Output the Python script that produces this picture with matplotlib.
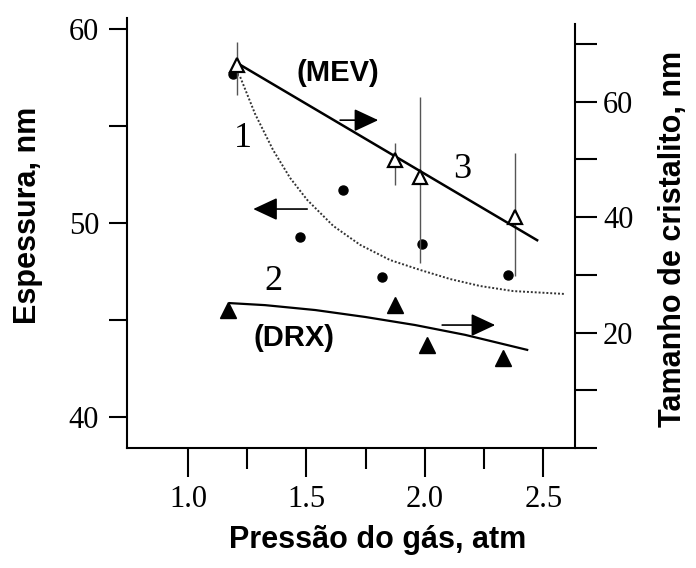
import numpy as np
import matplotlib.pyplot as plt
from matplotlib.ticker import FixedLocator

# curve 1: film thickness (left axis), filled circles + dotted trend
p_thick = [1.19, 1.473, 1.655, 1.82, 1.989, 2.352]
thick = [57.7, 49.3, 51.7, 47.2, 48.9, 47.3]
p_thick_fit = [1.22, 1.283, 1.359, 1.431, 1.503, 1.613, 1.727, 1.853,
               1.98, 2.107, 2.234, 2.373, 2.593]
thick_fit = [57.53, 55.62, 53.76, 52.32, 51.19, 49.85, 48.87, 48.09,
             47.58, 47.11, 46.75, 46.49, 46.34]

# curve 3: crystallite size from SEM (MEV), open triangles with error bars
p_mev = [1.207, 1.875, 1.98, 2.381]
size_mev = [66.4, 49.9, 47.0, 40.0]
err_mev_lo = [5.2, 4.3, 14.9, 10.2]
err_mev_hi = [4.0, 3.0, 13.8, 11.1]
p_mev_fit = [1.207, 2.474]
size_mev_fit = [66.7, 36.0]

# curve 2: crystallite size from XRD (DRX), filled triangles
p_drx = [1.169, 1.875, 2.01, 2.331]
size_drx = [23.9, 24.8, 17.9, 15.6]
p_drx_fit = [1.177, 1.325, 1.537, 1.748, 1.959, 2.17, 2.432]
size_drx_fit = [25.1, 24.75, 23.9, 22.7, 21.3, 19.6, 17.0]

x_major = [1.0, 1.5, 2.0, 2.5]
x_minor = [1.25, 1.75, 2.25]

serif = "Liberation Serif"
sans = "Liberation Sans"

fig = plt.figure(figsize=(6.96, 5.68), dpi=100)
ax = fig.add_axes([0.1825, 0.2113, 0.644, 0.757])
ax2 = ax.twinx()

# left axis data
ax.plot(p_thick, thick, "o", color="black", ms=6.5, zorder=3)
ax.plot(p_thick_fit, thick_fit, color="#333333", lw=1.4,
        linestyle=(0, (1, 1)), zorder=2)

# right axis data
ax2.errorbar(p_mev, size_mev, yerr=[err_mev_lo, err_mev_hi], fmt="none",
             ecolor="#555555", elinewidth=1.0, capsize=0, zorder=2)
ax2.plot(p_mev_fit, size_mev_fit, color="black", lw=1.8, zorder=3)
ax2.plot(p_mev, size_mev, "^", mfc="white", mec="black", mew=1.6,
         ms=10.5, zorder=4)
ax2.plot(p_drx_fit, size_drx_fit, color="black", lw=1.6, zorder=3)
ax2.plot(p_drx, size_drx, "^", color="black", ms=12, zorder=4)

ax.set_xlim(0.742, 2.635)
ax.set_ylim(38.4, 60.57)
ax2.set_ylim(0, 74.5)

# spines
for a in (ax, ax2):
    a.spines["top"].set_visible(False)
    for s in a.spines.values():
        s.set_linewidth(1.5)
ax.spines["right"].set_visible(False)
ax2.spines["left"].set_visible(False)
ax2.spines["bottom"].set_visible(False)
ax2.spines["right"].set_bounds(0, 73.5)

# ticks
ax.xaxis.set_major_locator(FixedLocator(x_major))
ax.xaxis.set_minor_locator(FixedLocator(x_minor))
ax.set_xticklabels([f"{v:.1f}" for v in x_major])
ax.yaxis.set_major_locator(FixedLocator([40, 50, 60]))
ax.yaxis.set_minor_locator(FixedLocator([45, 55]))
ax2.yaxis.set_major_locator(FixedLocator([20, 40, 60]))
ax2.yaxis.set_minor_locator(FixedLocator([0, 10, 30, 50, 70]))

ax.tick_params(axis="x", which="major", direction="out", length=21,
               width=1.5, pad=6)
ax.tick_params(axis="x", which="minor", direction="out", length=15,
               width=1.5)
ax.tick_params(axis="y", which="both", direction="out", length=13,
               width=1.5, pad=7)
ax2.tick_params(axis="y", which="both", direction="out", length=16,
                width=1.5, pad=4)

for lab in ax.get_xticklabels() + ax.get_yticklabels() + ax2.get_yticklabels():
    lab.set_fontfamily(serif)
    lab.set_fontsize(22)

# axis titles
ax.set_xlabel("Pressão do gás, atm", fontfamily=sans, fontweight="bold",
              fontsize=22, va="center")
ax.xaxis.set_label_coords(0.558, -0.214)
ax.set_ylabel("Espessura, nm", fontfamily=sans, fontweight="bold",
              fontsize=22, va="center")
ax.yaxis.set_label_coords(-0.221, 0.542)
ax2.set_ylabel("Tamanho de cristalito, nm", fontfamily=sans,
               fontweight="bold", fontsize=22, va="center", rotation=90)
ax2.yaxis.set_label_coords(1.219, 0.486)

# curve labels
ax2.text(1.634, 65.0, "(MEV)", fontfamily=sans, fontweight="bold",
         fontsize=21, ha="center", va="center")
ax2.text(1.448, 19.1, "(DRX)", fontfamily=sans, fontweight="bold",
         fontsize=21, ha="center", va="center")
ax.text(1.232, 54.38, "1", fontfamily=serif, fontsize=26, ha="center", va="center")
ax2.text(2.158, 48.2, "3", fontfamily=serif, fontsize=26, ha="center", va="center")
ax2.text(1.359, 28.8, "2", fontfamily=serif, fontsize=26, ha="center", va="center")

# arrows showing which axis each curve belongs to
arrow = dict(arrowstyle="-|>,head_length=1.5,head_width=0.7",
             color="black", lw=1.2, shrinkA=0, shrinkB=0)
ax2.annotate("", xy=(1.803, 56.8), xytext=(1.642, 56.8), arrowprops=arrow)
ax.annotate("", xy=(1.275, 50.72), xytext=(1.503, 50.72), arrowprops=arrow)
ax2.annotate("", xy=(2.297, 21.3), xytext=(2.073, 21.3), arrowprops=arrow)

fig.savefig("out.png", dpi=100)
